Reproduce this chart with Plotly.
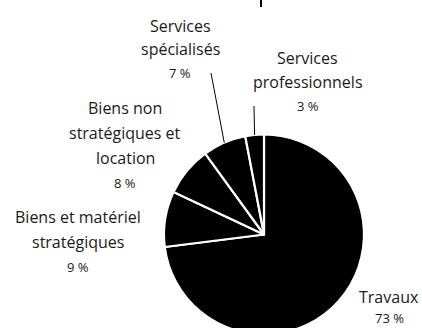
import math
import plotly.graph_objects as go

# shares of the total, clockwise from 12 o'clock
labels = ["Travaux", "Biens et matériel stratégiques", "Biens non stratégiques et location",
          "Services spécialisés", "Services professionnels"]
values = [73, 9, 8, 7, 3]
pct_text = ["73 %", "9 %", "8 %", "7 %", "3 %"]

# how each label is broken in lines
label_lines = [
    ["Travaux"],
    ["Biens et matériel", "stratégiques"],
    ["Biens non", "stratégiques et", "location"],
    ["Services", "spécialisés"],
    ["Services", "professionnels"],
]

W, H = 422, 340
cx, cy, r = 264, 234.5, 100      # pie centre / radius in pixels (from top)
FONT = "Open Sans"

# where each label block sits: centre x, baseline of first line, line gap
label_pos = [(389, 302, 21), (77.5, 222, 25), (125, 113, 25), (180, 31, 23.3), (307.5, 63, 24)]
# leader line starts (pixels) for the small slices, None = no line
leader_start = [None, None, None, (211, 73), (254, 106)]


def px(x):
    return x / W


def py(y):
    return (H - y) / H


fig = go.Figure(go.Pie(
    labels=labels,
    values=values,
    sort=False,
    direction="clockwise",
    rotation=0,
    textinfo="none",
    hoverinfo="label+percent",
    marker=dict(colors=["black"] * len(values), line=dict(color="white", width=2.2)),
    domain=dict(x=[px(cx - r), px(cx + r)], y=[py(cy + r), py(cy - r)]),
    showlegend=False,
))

annotations = []
shapes = []
total = sum(values)
cum = 0
for i, v in enumerate(values):
    mid = (cum + v / 2) / total * 2 * math.pi
    cum += v
    x0, y0, gap = label_pos[i]
    lines = label_lines[i]
    for k, line in enumerate(lines):
        annotations.append(dict(
            x=px(x0), y=py(y0 + k * gap - 5), xref="paper", yref="paper",
            text=line, showarrow=False, xanchor="center", yanchor="middle",
            font=dict(family=FONT, size=16, color="#1a1a1a"),
        ))
    annotations.append(dict(
        x=px(x0), y=py(y0 + len(lines) * gap - 5), xref="paper", yref="paper",
        text=pct_text[i], showarrow=False, xanchor="center", yanchor="middle",
        font=dict(family=FONT, size=13, color="#1a1a1a"),
    ))
    if leader_start[i] is not None:
        tx = cx + r * math.sin(mid)
        ty = cy - r * math.cos(mid)
        sx, sy = leader_start[i]
        shapes.append(dict(type="line", xref="paper", yref="paper",
                           x0=px(sx), y0=py(sy), x1=px(tx), y1=py(ty),
                           line=dict(color="black", width=1)))

# small mark at the top edge
shapes.append(dict(type="line", xref="paper", yref="paper",
                   x0=px(261), y0=py(0), x1=px(261), y1=py(7),
                   line=dict(color="black", width=2)))

fig.update_layout(
    width=W, height=H,
    margin=dict(l=0, r=0, t=0, b=0),
    paper_bgcolor="white",
    plot_bgcolor="white",
    annotations=annotations,
    shapes=shapes,
)

fig.write_html("out.html", config={"displayModeBar": False},
               post_script="document.body.style.margin='0';")
